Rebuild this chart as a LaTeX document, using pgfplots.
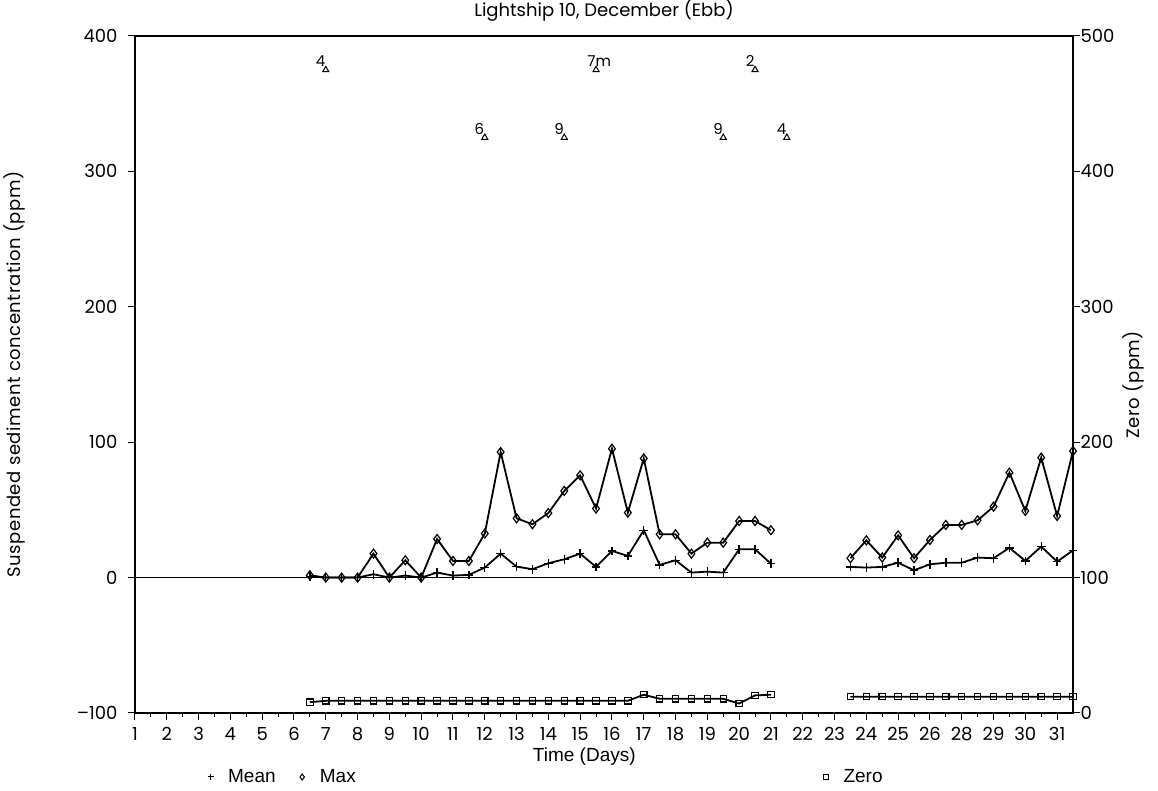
\documentclass[border=0pt]{standalone}
\usepackage{pgfplots}
\pgfplotsset{compat=1.18}
\usepackage{fontspec}
\setmainfont{Poppins}
\newfontfamily\narrowfont{Liberation Sans}
\newfontfamily\spacedfont[LetterSpace=3]{Poppins}
\newcommand{\tf}{\fontsize{18}{18}\selectfont}
\newcommand{\af}{\fontsize{15}{15}\selectfont}
\newcommand{\lf}{\spacedfont\fontsize{18}{18}\selectfont}
\newcommand{\nf}{\narrowfont\fontsize{19}{19}\selectfont}
\begin{document}
\begin{tikzpicture}[x=1pt,y=1pt]
\path[use as bounding box] (-135,-78) rectangle (1023,713);
\begin{axis}[
  at={(0,0)}, anchor=south west,
  scale only axis, width=938pt, height=677pt,
  xmin=1, xmax=30.5, ymin=-100, ymax=400,
  xtick={1,...,30},
  xticklabels={1,2,3,4,5,6,7,8,9,10,11,12,13,14,15,16,17,18,19,20,21,22,23,24,25,26,28,29,30,31},
  minor x tick num=1,
  ytick={-100,0,100,200,300,400},
  yticklabels={--100,0,100,200,300,400},
  xtick pos=bottom, ytick pos=left,
  tick align=outside,
  major tick length=7pt, minor tick length=4pt,
  every tick/.style={black, line width=1pt},
  axis line style={line width=1.5pt},
  ticklabel style={font=\tf},
  y tick label style={xshift=-7pt},
  x tick label style={yshift=-4pt},
  title={Lightship 10, December (Ebb)},
  title style={font=\tf, at={(0.5,1.02)}, anchor=base},
  xlabel={Time (Days)},
  xlabel style={font=\nf, at={(0.479,-0.065)}, anchor=center},
  ylabel={Suspended sediment concentration (ppm)},
  ylabel style={font=\lf, at={(-0.128,0.5)}, anchor=center},
  unbounded coords=jump,
  legend style={draw=none, fill=none, at={(0.068,-0.0945)}, anchor=west, font=\nf,
    legend columns=2, /tikz/every even column/.append style={column sep=16pt}},
  legend image code/.code={\path[draw=none] (0cm,0cm) -- (0.85cm,0cm); \draw[solid, line width=1pt] plot[only marks, mark size=3pt, mark options={fill=white}] coordinates {(0.3cm,0cm)};},
]
\draw[line width=1.5pt] (axis cs:1,0) -- (axis cs:30.5,0);
\addplot[black, line width=1.8pt, mark=+, mark size=4.3pt, mark options={solid, line width=1.4pt}] coordinates {
(6.5,1) (7,0) (7.5,0) (8,0) (8.5,2.5) (9,0) (9.5,1.5) (10,0) (10.5,3.7) (11,1.5) (11.5,2) (12,7.4) (12.5,17.7) (13,8.1) (13.5,6.2) (14,10.6) (14.5,13.5) (15,17.7) (15.5,7.9) (16,19.7) (16.5,16) (17,35) (17.5,9.4) (18,12.8) (18.5,3.7) (19,4.4) (19.5,3.7) (20,20.9) (20.5,20.9) (21,10.3) (22,nan) (23.5,7.9) (24,7.4) (24.5,7.9) (25,11) (25.5,5.4) (26,9.8) (26.5,11) (27,11) (27.5,14.8) (28,14.3) (28.5,22) (29,12.3) (29.5,22.9) (30,11.8) (30.5,20.1)
};
\addlegendentry{Mean}
\addplot[black, line width=1.8pt, mark=diamond, mark size=4.5pt, mark options={solid, fill=white, line width=1.2pt}] coordinates {
(6.5,1.7) (7,0) (7.5,0) (8,0) (8.5,17.7) (9,0) (9.5,12.8) (10,0) (10.5,28.5) (11,12.3) (11.5,12.3) (12,32.5) (12.5,92.7) (13,43.8) (13.5,39.4) (14,47.7) (14.5,64) (15,75.5) (15.5,51) (16,95.2) (16.5,48) (17,88) (17.5,32) (18,32) (18.5,17.7) (19,25.8) (19.5,25.8) (20,41.8) (20.5,41.8) (21,35) (22,nan) (23.5,14.3) (24,27.5) (24.5,14.8) (25,31.2) (25.5,14.3) (26,27.8) (26.5,38.9) (27,38.9) (27.5,42.3) (28,52.4) (28.5,77.5) (29,49.2) (29.5,88.6) (30,45.5) (30.5,93.5)
};
\addlegendentry{Max}
\addplot[only marks, mark=triangle, mark size=3.5pt, mark options={black, line width=1pt},
  point meta=explicit symbolic, nodes near coords,
  every node near coord/.style={anchor=base east, inner sep=0pt, xshift=0pt, yshift=3pt, font=\af, black},
  forget plot] coordinates {
(7,375) [4] (15.5,375) [7\rlap{m}] (20.5,375) [2]
(12,325) [6] (14.5,325) [9] (19.5,325) [9] (21.5,325) [4]
};
\end{axis}
\begin{axis}[
  at={(0,0)}, anchor=south west,
  scale only axis, width=938pt, height=677pt,
  xmin=1, xmax=30.5, ymin=0, ymax=500,
  axis x line=none, axis y line*=right,
  ytick={0,100,200,300,400,500},
  yticklabels={0,100,200,300,400,500},
  tick align=outside,
  major tick length=7pt,
  every tick/.style={black, line width=1pt},
  axis line style={line width=1.5pt},
  ticklabel style={font=\tf},
  y tick label style={xshift=-3pt},
  ylabel={Zero (ppm)},
  ylabel style={font=\lf, at={(1.064,0.485)}, anchor=center},
  unbounded coords=jump,
  legend style={draw=none, fill=none, at={(0.724,-0.0945)}, anchor=west, font=\nf},
  legend image code/.code={\path[draw=none] (0cm,0cm) -- (0.85cm,0cm); \draw[solid, line width=1pt] plot[only marks, mark size=2.6pt, mark options={fill=white}] coordinates {(0.3cm,0cm)};},
]
\addplot[black, line width=1.8pt, mark=square, mark size=3.2pt, mark options={solid, fill=white, line width=1.1pt}] coordinates {
(6.5,8) (7,9) (7.5,9) (8,9) (8.5,9) (9,9) (9.5,9) (10,9) (10.5,9) (11,9) (11.5,9) (12,9) (12.5,9) (13,9) (13.5,9) (14,9) (14.5,9) (15,9) (15.5,9) (16,9) (16.5,9) (17,13.5) (17.5,10.5) (18,10.5) (18.5,10.5) (19,10.5) (19.5,10.5) (20,7) (20.5,13) (21,13.5) (22,nan) (23.5,12) (24,12) (24.5,12) (25,12) (25.5,12) (26,12) (26.5,12) (27,12) (27.5,12) (28,12) (28.5,12) (29,12) (29.5,12) (30,12) (30.5,12)
};
\addlegendentry{Zero}
\end{axis}
\end{tikzpicture}
\end{document}
